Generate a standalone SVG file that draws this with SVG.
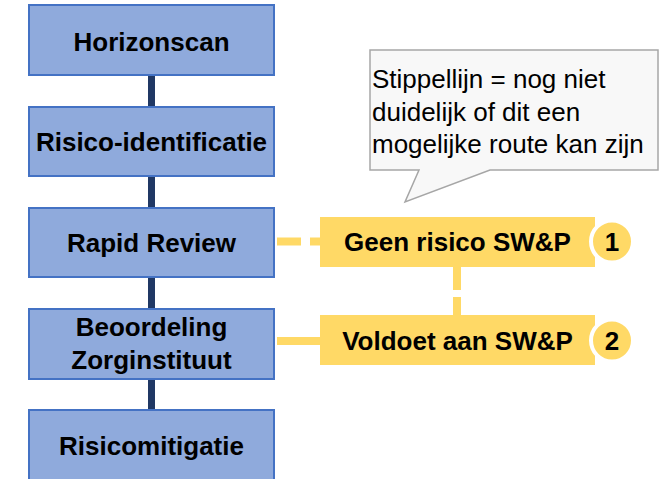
<svg xmlns="http://www.w3.org/2000/svg" width="659" height="479" viewBox="0 0 659 479">
<style>
.step{fill:#8FAADC;stroke:#4472C4;stroke-width:2}
.lbl{font-family:"Liberation Sans",Arial,sans-serif;font-weight:bold;font-size:26px;fill:#000;text-anchor:middle}
.ybox{fill:#FFD966}
.ycirc{fill:#FFD966;stroke:#FFFFFF;stroke-width:4}
.nav{stroke:#203864;stroke-width:7;fill:none}
.yl{stroke:#FFD966;stroke-width:8;fill:none}
.note{font-family:"Liberation Sans",Arial,sans-serif;font-size:26px;fill:#000}
</style>
<rect width="659" height="479" fill="#FFFFFF"/>
<g id="connectors">
<line class="nav" x1="151.5" y1="75" x2="151.5" y2="107"/>
<line class="nav" x1="151.5" y1="176" x2="151.5" y2="208"/>
<line class="nav" x1="151.5" y1="277" x2="151.5" y2="309"/>
<line class="nav" x1="151.5" y1="379" x2="151.5" y2="410"/>
<line class="yl" x1="277" y1="241.5" x2="320" y2="241.5" stroke-dasharray="24 9"/>
<line class="yl" x1="457" y1="267" x2="457" y2="315" stroke-dasharray="23 7"/>
<line class="yl" x1="277" y1="341" x2="320" y2="341"/>
</g>
<g id="horizonscan">
<rect class="step" x="29" y="5" width="245" height="70"/>
<text class="lbl" x="151.5" y="51">Horizonscan</text>
</g>
<g id="risico-identificatie">
<rect class="step" x="29" y="107" width="245" height="69"/>
<text class="lbl" x="151.5" y="151">Risico-identificatie</text>
</g>
<g id="rapid-review">
<rect class="step" x="29" y="208" width="245" height="69"/>
<text class="lbl" x="151.5" y="252">Rapid Review</text>
</g>
<g id="beoordeling">
<rect class="step" x="29" y="309" width="245" height="70"/>
<text class="lbl" x="151.5" y="336">Beoordeling</text>
<text class="lbl" x="151.5" y="369">Zorginstituut</text>
</g>
<g id="risicomitigatie">
<rect class="step" x="29" y="410" width="245" height="72"/>
<text class="lbl" x="151.5" y="455">Risicomitigatie</text>
</g>
<g id="geen-risico">
<rect class="ybox" x="320" y="217" width="275" height="50"/>
<circle class="ycirc" cx="612" cy="241.5" r="21"/>
<text class="lbl" x="457.5" y="251">Geen risico SW&amp;P</text>
<text class="lbl" x="612" y="251">1</text>
</g>
<g id="voldoet">
<rect class="ybox" x="320" y="315" width="275" height="50"/>
<circle class="ycirc" cx="612" cy="340.5" r="21"/>
<text class="lbl" x="457.5" y="350">Voldoet aan SW&amp;P</text>
<text class="lbl" x="612" y="350">2</text>
</g>
<g id="callout">
<path d="M370,50 H658 V170 H490 L405,202 L419,170 H370 Z" fill="#F8F8F8" stroke="#A6A6A6" stroke-width="1.5"/>
<text class="note" x="372" y="88">Stippellijn = nog niet</text>
<text class="note" x="372" y="121">duidelijk of dit een</text>
<text class="note" x="372" y="153">mogelijke route kan zijn</text>
</g>
</svg>
